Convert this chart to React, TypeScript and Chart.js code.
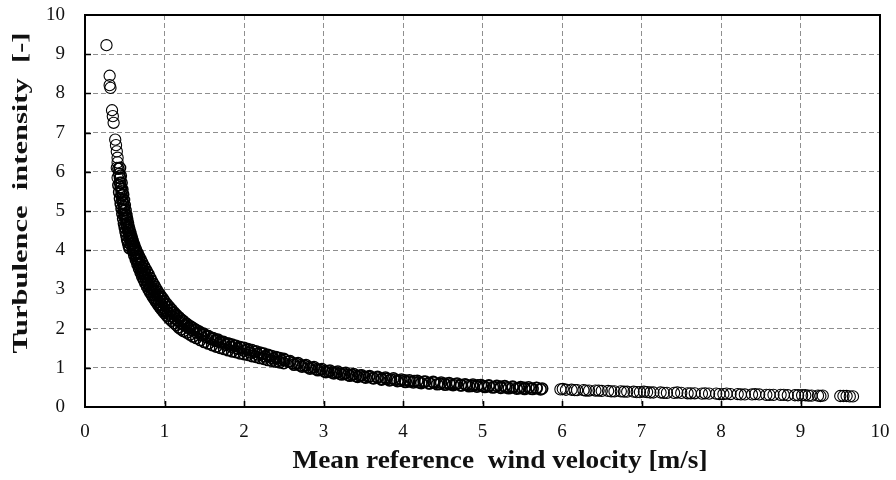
import { useEffect, useRef } from "react";
import { Chart, registerables } from "chart.js";

Chart.register(...registerables);

// Mean reference wind velocity [m/s] — core run of measurements
const windVelocity = [
  0.27, 0.31, 0.31, 0.32, 0.34, 0.35, 0.36, 0.38, 0.39, 0.40,
  0.41, 0.41, 0.42, 0.43, 0.44, 0.44, 0.45, 0.46, 0.46, 0.47,
  0.48, 0.49, 0.49, 0.50, 0.51, 0.52, 0.52, 0.53, 0.54, 0.55,
  0.56, 0.57, 0.58, 0.59,
  0.60, 0.61, 0.62, 0.63, 0.64, 0.65, 0.66, 0.67, 0.68, 0.69,
  0.70, 0.71, 0.72, 0.73, 0.74, 0.75, 0.76, 0.77, 0.78, 0.79,
  0.80, 0.82, 0.83, 0.84, 0.85, 0.87, 0.88, 0.90, 0.91, 0.93,
  0.94, 0.96, 0.97, 0.99, 1.00, 1.02, 1.03, 1.05, 1.07, 1.09,
  1.11, 1.13, 1.15, 1.17, 1.19, 1.21, 1.23, 1.25, 1.28, 1.30,
  1.33, 1.35, 1.38, 1.40, 1.43, 1.46, 1.49, 1.52, 1.55, 1.58,
  1.61, 1.64, 1.67, 1.70, 1.74, 1.77, 1.81, 1.84, 1.88, 1.92,
  1.96, 2.00, 2.04, 2.08, 2.13, 2.17, 2.22, 2.26, 2.31, 2.36,
  2.41, 2.46, 2.51,
  2.56, 2.61, 2.66, 2.71, 2.76, 2.81, 2.86, 2.91, 2.96, 3.01,
  3.06, 3.11, 3.16, 3.21, 3.26, 3.31, 3.36, 3.41, 3.46, 3.51,
  3.57, 3.62, 3.68, 3.73, 3.79, 3.85, 3.90, 3.96, 4.02, 4.08,
  4.14, 4.20, 4.26, 4.33, 4.39, 4.46, 4.52, 4.59, 4.66, 4.73,
  4.80, 4.87, 4.94, 5.01, 5.08, 5.15, 5.23, 5.30, 5.38, 5.46,
  5.53, 5.61, 5.68, 5.75,
  5.98, 6.05, 6.12, 6.19, 6.27, 6.34, 6.42, 6.50, 6.58, 6.66,
  6.74, 6.82, 6.90, 6.98, 7.07, 7.15, 7.24, 7.32, 7.41, 7.50,
  7.58, 7.67, 7.76, 7.85, 7.94, 8.03, 8.12, 8.21, 8.30, 8.39,
  8.48, 8.57, 8.66, 8.75, 8.84, 8.93, 9.02, 9.10, 9.22, 9.28,
  9.50, 9.58, 9.66,
];

// Turbulence intensity [-] — core run of measurements
const turbulenceIntensity = [
  9.23, 8.45, 8.21, 8.14, 7.57, 7.42, 7.25, 6.82, 6.68, 6.52,
  6.36, 6.24, 6.08, 5.95, 5.84, 5.72, 5.61, 5.50, 5.40, 5.30,
  5.20, 5.10, 5.01, 4.92, 4.84, 4.75, 4.67, 4.59, 4.51, 4.44,
  4.37, 4.30, 4.23, 4.17,
  4.17, 4.02, 4.08, 3.90, 3.95, 3.78, 3.84, 3.68, 3.74, 3.58,
  3.64, 3.49, 3.55, 3.40, 3.47, 3.32, 3.38, 3.24, 3.30, 3.16,
  3.22, 3.05, 3.12, 2.96, 3.03, 2.86, 2.94, 2.76, 2.85, 2.68,
  2.77, 2.60, 2.69, 2.52, 2.62, 2.45, 2.55, 2.39, 2.46, 2.32,
  2.39, 2.26, 2.32, 2.20, 2.26, 2.14, 2.20, 2.09, 2.12, 2.02,
  2.05, 1.96, 1.98, 1.90, 1.93, 1.84, 1.87, 1.79, 1.81, 1.74,
  1.76, 1.69, 1.72, 1.65, 1.66, 1.59, 1.61, 1.54, 1.56, 1.49,
  1.51, 1.44, 1.46, 1.39, 1.41, 1.34, 1.36, 1.29, 1.31, 1.24,
  1.26, 1.19, 1.20,
  1.16, 1.12, 1.10, 1.06, 1.05, 1.01, 1.00, 0.96, 0.95, 0.91,
  0.91, 0.88, 0.88, 0.85, 0.85, 0.82, 0.82, 0.79, 0.80, 0.77,
  0.77, 0.74, 0.75, 0.72, 0.72, 0.70, 0.70, 0.67, 0.68, 0.65,
  0.66, 0.63, 0.64, 0.61, 0.62, 0.59, 0.60, 0.58, 0.58, 0.56,
  0.56, 0.54, 0.55, 0.53, 0.53, 0.51, 0.52, 0.50, 0.50, 0.48,
  0.49, 0.47, 0.48, 0.47,
  0.45, 0.44, 0.44, 0.43, 0.43, 0.42, 0.42, 0.41, 0.41, 0.40,
  0.40, 0.39, 0.39, 0.38, 0.38, 0.37, 0.37, 0.36, 0.36, 0.36,
  0.35, 0.35, 0.34, 0.34, 0.34, 0.33, 0.33, 0.33, 0.32, 0.32,
  0.32, 0.31, 0.31, 0.31, 0.30, 0.30, 0.30, 0.29, 0.29, 0.29,
  0.28, 0.28, 0.27,
];

// Samples lying on the upper / right side of the cloud
const windVelocityUpper = [
  0.44, 0.45, 0.46, 0.47, 0.48, 0.49, 0.50, 0.51, 0.52, 0.53,
  0.54, 0.55, 0.56, 0.57, 0.58, 0.59, 0.60, 0.61,
  0.62, 0.64, 0.66, 0.68, 0.70, 0.72, 0.74, 0.76, 0.78, 0.80,
  0.82, 0.84, 0.86, 0.88, 0.90, 0.92, 0.94, 0.96, 0.98, 1.00,
  1.03, 1.06, 1.09, 1.12, 1.15, 1.18, 1.21, 1.24, 1.28, 1.32,
  1.36, 1.40, 1.45, 1.50, 1.55, 1.60, 1.65, 1.70, 1.75, 1.80,
  1.85, 1.90, 1.95, 2.00, 2.05, 2.10, 2.15, 2.20, 2.25, 2.30,
  2.35, 2.40, 2.45, 2.50,
  2.58, 2.68, 2.78, 2.88, 2.98, 3.08, 3.18, 3.28, 3.38, 3.48,
  3.58, 3.68, 3.78, 3.88, 3.98, 4.08, 4.18, 4.28, 4.38, 4.48,
  4.58, 4.68, 4.78, 4.88, 4.98, 5.08, 5.18, 5.28, 5.38, 5.48,
  5.58, 5.68,
  6.01, 6.16, 6.30, 6.46, 6.62, 6.78, 6.94, 7.03, 7.11, 7.28,
  7.45, 7.62, 7.80, 7.98, 8.07, 8.25, 8.43, 8.61, 8.79, 8.97,
  9.06, 9.14, 9.25, 9.54, 9.62,
];

const turbulenceUpper = [
  6.10, 5.90, 5.72, 5.55, 5.42, 5.28, 5.15, 5.02, 4.90, 4.80,
  4.70, 4.60, 4.52, 4.44, 4.36, 4.30, 4.24, 4.17,
  4.12, 4.02, 3.93, 3.84, 3.76, 3.68, 3.60, 3.52, 3.45, 3.38,
  3.29, 3.21, 3.14, 3.07, 3.00, 2.93, 2.87, 2.81, 2.76, 2.70,
  2.62, 2.55, 2.48, 2.41, 2.35, 2.29, 2.23, 2.18, 2.11, 2.06,
  2.01, 1.96, 1.90, 1.85, 1.80, 1.75, 1.71, 1.67, 1.64, 1.62,
  1.59, 1.56, 1.53, 1.51, 1.48, 1.45, 1.42, 1.39, 1.36, 1.33,
  1.30, 1.27, 1.25, 1.23,
  1.17, 1.12, 1.07, 1.02, 0.97, 0.93, 0.90, 0.87, 0.84, 0.81,
  0.79, 0.77, 0.75, 0.73, 0.70, 0.68, 0.67, 0.65, 0.64, 0.62,
  0.61, 0.60, 0.58, 0.57, 0.56, 0.55, 0.54, 0.53, 0.52, 0.51,
  0.50, 0.49,
  0.46, 0.43, 0.42, 0.42, 0.40, 0.39, 0.38, 0.39, 0.37, 0.36,
  0.37, 0.35, 0.35, 0.33, 0.34, 0.32, 0.33, 0.31, 0.31, 0.30,
  0.30, 0.29, 0.28, 0.28, 0.27,
];

// Samples lying on the lower / left side of the cloud
const windVelocityLower = [
  0.40, 0.41, 0.42, 0.43, 0.44, 0.45, 0.46, 0.47, 0.48, 0.49,
  0.50, 0.51, 0.52, 0.53, 0.54, 0.55, 0.56,
  0.58, 0.60, 0.62, 0.64, 0.66, 0.68, 0.70, 0.72, 0.74, 0.76,
  0.78, 0.80, 0.82, 0.84, 0.86, 0.88, 0.90, 0.92, 0.94, 0.96,
  0.98, 1.00, 1.03, 1.06, 1.09, 1.12, 1.15, 1.18, 1.21, 1.24,
  1.28, 1.32, 1.36, 1.40, 1.45, 1.50, 1.55, 1.60, 1.65, 1.70,
  1.75, 1.80, 1.85, 1.90, 1.95, 2.00, 2.05, 2.10, 2.15, 2.20,
  2.25, 2.30, 2.35, 2.40, 2.45, 2.50,
  2.63, 2.73, 2.83, 2.93, 3.03, 3.13, 3.23, 3.33, 3.43, 3.53,
  3.63, 3.73, 3.83, 3.93, 4.03, 4.13, 4.23, 4.33, 4.43, 4.53,
  4.63, 4.73, 4.83, 4.93, 5.03, 5.13, 5.23, 5.33, 5.43, 5.53,
  5.63, 5.73,
];

const turbulenceLower = [
  6.10, 5.85, 5.66, 5.48, 5.32, 5.18, 5.06, 4.93, 4.80, 4.68,
  4.58, 4.47, 4.38, 4.28, 4.20, 4.12, 4.05,
  4.14, 4.00, 3.87, 3.75, 3.64, 3.53, 3.43, 3.33, 3.24, 3.16,
  3.08, 3.00, 2.93, 2.86, 2.79, 2.73, 2.67, 2.61, 2.55, 2.50,
  2.45, 2.40, 2.33, 2.26, 2.20, 2.14, 2.09, 2.03, 1.98, 1.94,
  1.90, 1.85, 1.80, 1.76, 1.71, 1.66, 1.62, 1.58, 1.54, 1.51,
  1.48, 1.45, 1.42, 1.40, 1.37, 1.35, 1.33, 1.30, 1.28, 1.25,
  1.23, 1.20, 1.18, 1.16, 1.14, 1.12,
  1.08, 1.03, 0.98, 0.94, 0.89, 0.86, 0.83, 0.80, 0.77, 0.75,
  0.73, 0.70, 0.68, 0.66, 0.64, 0.63, 0.61, 0.60, 0.58, 0.57,
  0.56, 0.55, 0.53, 0.52, 0.51, 0.50, 0.49, 0.48, 0.47, 0.46,
  0.46, 0.45,
];

const axisMin = 0;
const axisMax = 10;
const tickStep = 1;

const xAxisTitle = "Mean reference  wind velocity [m/s]";
const yAxisTitle = "Turbulence  intensity  [-]";

const SERIF = "'Liberation Serif', 'Times New Roman', serif";

// Black frame round the plot area with short inward tick marks.
const framePlugin = {
  id: "frame",
  beforeDatasetsDraw(chart: any) {
    const { ctx, chartArea: a, scales } = chart;
    ctx.save();
    ctx.strokeStyle = "#000";
    ctx.lineWidth = 2;
    ctx.strokeRect(a.left, a.top, a.right - a.left, a.bottom - a.top);
    ctx.lineWidth = 1.6;
    ctx.beginPath();
    for (let v = axisMin + tickStep; v < axisMax; v += tickStep) {
      const x = Math.round(scales.x.getPixelForValue(v)) + 0.5;
      ctx.moveTo(x, a.bottom);
      ctx.lineTo(x, a.bottom - 6);
      const y = Math.round(scales.y.getPixelForValue(v)) + 0.5;
      ctx.moveTo(a.left, y);
      ctx.lineTo(a.left + 6, y);
    }
    ctx.stroke();
    ctx.restore();
  },
  afterDraw(chart: any) {
    const { ctx } = chart;
    ctx.save();
    ctx.fillStyle = "#111";
    ctx.textAlign = "center";
    ctx.textBaseline = "alphabetic";

    // x-axis title
    ctx.font = `bold 26px ${SERIF}`;
    const wx = ctx.measureText(xAxisTitle).width;
    ctx.save();
    ctx.translate(500, 468);
    ctx.scale(415 / wx, 1);
    ctx.fillText(xAxisTitle, 0, 0);
    ctx.restore();

    // y-axis title, reading upwards
    ctx.font = `bold 21px ${SERIF}`;
    const wy = ctx.measureText(yAxisTitle).width;
    ctx.save();
    ctx.translate(27, 193);
    ctx.rotate(-Math.PI / 2);
    ctx.scale(321 / wy, 1);
    ctx.fillText(yAxisTitle, 0, 0);
    ctx.restore();

    ctx.restore();
  },
};

const toPoints = (xs: number[], ys: number[]) => xs.map((x, i) => ({ x, y: ys[i] }));

// Rings are drawn a touch heavier where the cloud is densest.
const ringWidth = (c: any) => (c.raw && c.raw.x > 0.41 && c.raw.x < 5.9 ? 1.5 : 1.1);

const markerStyle = {
  pointStyle: "circle",
  pointRadius: 5.6,
  pointBorderWidth: ringWidth,
  pointBorderColor: "#000",
  pointBackgroundColor: "rgba(0,0,0,0)",
  showLine: false,
};

export default function App() {
  const canvasRef = useRef<HTMLCanvasElement | null>(null);

  useEffect(() => {
    document.body.style.margin = "0";
    const canvas = canvasRef.current;
    if (!canvas) return;

    const tickFont = { family: SERIF, size: 19 };

    const chart = new Chart(canvas, {
      type: "scatter",
      data: {
        datasets: [
          { data: toPoints(windVelocity, turbulenceIntensity), ...markerStyle },
          { data: toPoints(windVelocityUpper, turbulenceUpper), ...markerStyle },
          { data: toPoints(windVelocityLower, turbulenceLower), ...markerStyle },
        ],
      },
      options: {
        responsive: false,
        animation: false,
        devicePixelRatio: 1,
        layout: { padding: { left: 0, right: 16, top: 15, bottom: 0 } },
        plugins: {
          legend: { display: false },
          tooltip: { enabled: false },
        },
        scales: {
          x: {
            type: "linear",
            min: axisMin,
            max: axisMax,
            afterFit: (scale: any) => {
              scale.height = 73;
              scale.paddingLeft = 0;
              scale.paddingRight = 0;
            },
            ticks: {
              stepSize: tickStep,
              padding: 14,
              font: tickFont,
              color: "#111",
              maxRotation: 0,
            },
            grid: {
              color: "#8f8f8f",
              lineWidth: 1,
              drawTicks: false,
            },
            border: { display: false, dash: [5, 3] },
          },
          y: {
            type: "linear",
            min: axisMin,
            max: axisMax,
            afterFit: (scale: any) => {
              scale.width = 85;
              scale.paddingTop = 0;
              scale.paddingBottom = 0;
            },
            ticks: {
              stepSize: tickStep,
              padding: 20,
              font: tickFont,
              color: "#111",
            },
            grid: {
              color: "#8f8f8f",
              lineWidth: 1,
              drawTicks: false,
            },
            border: { display: false, dash: [5, 3] },
          },
        },
      },
      plugins: [framePlugin],
    });

    return () => chart.destroy();
  }, []);

  return (
    <div style={{ width: 896, height: 480 }}>
      <canvas ref={canvasRef} width={896} height={480} style={{ display: "block" }} />
    </div>
  );
}
